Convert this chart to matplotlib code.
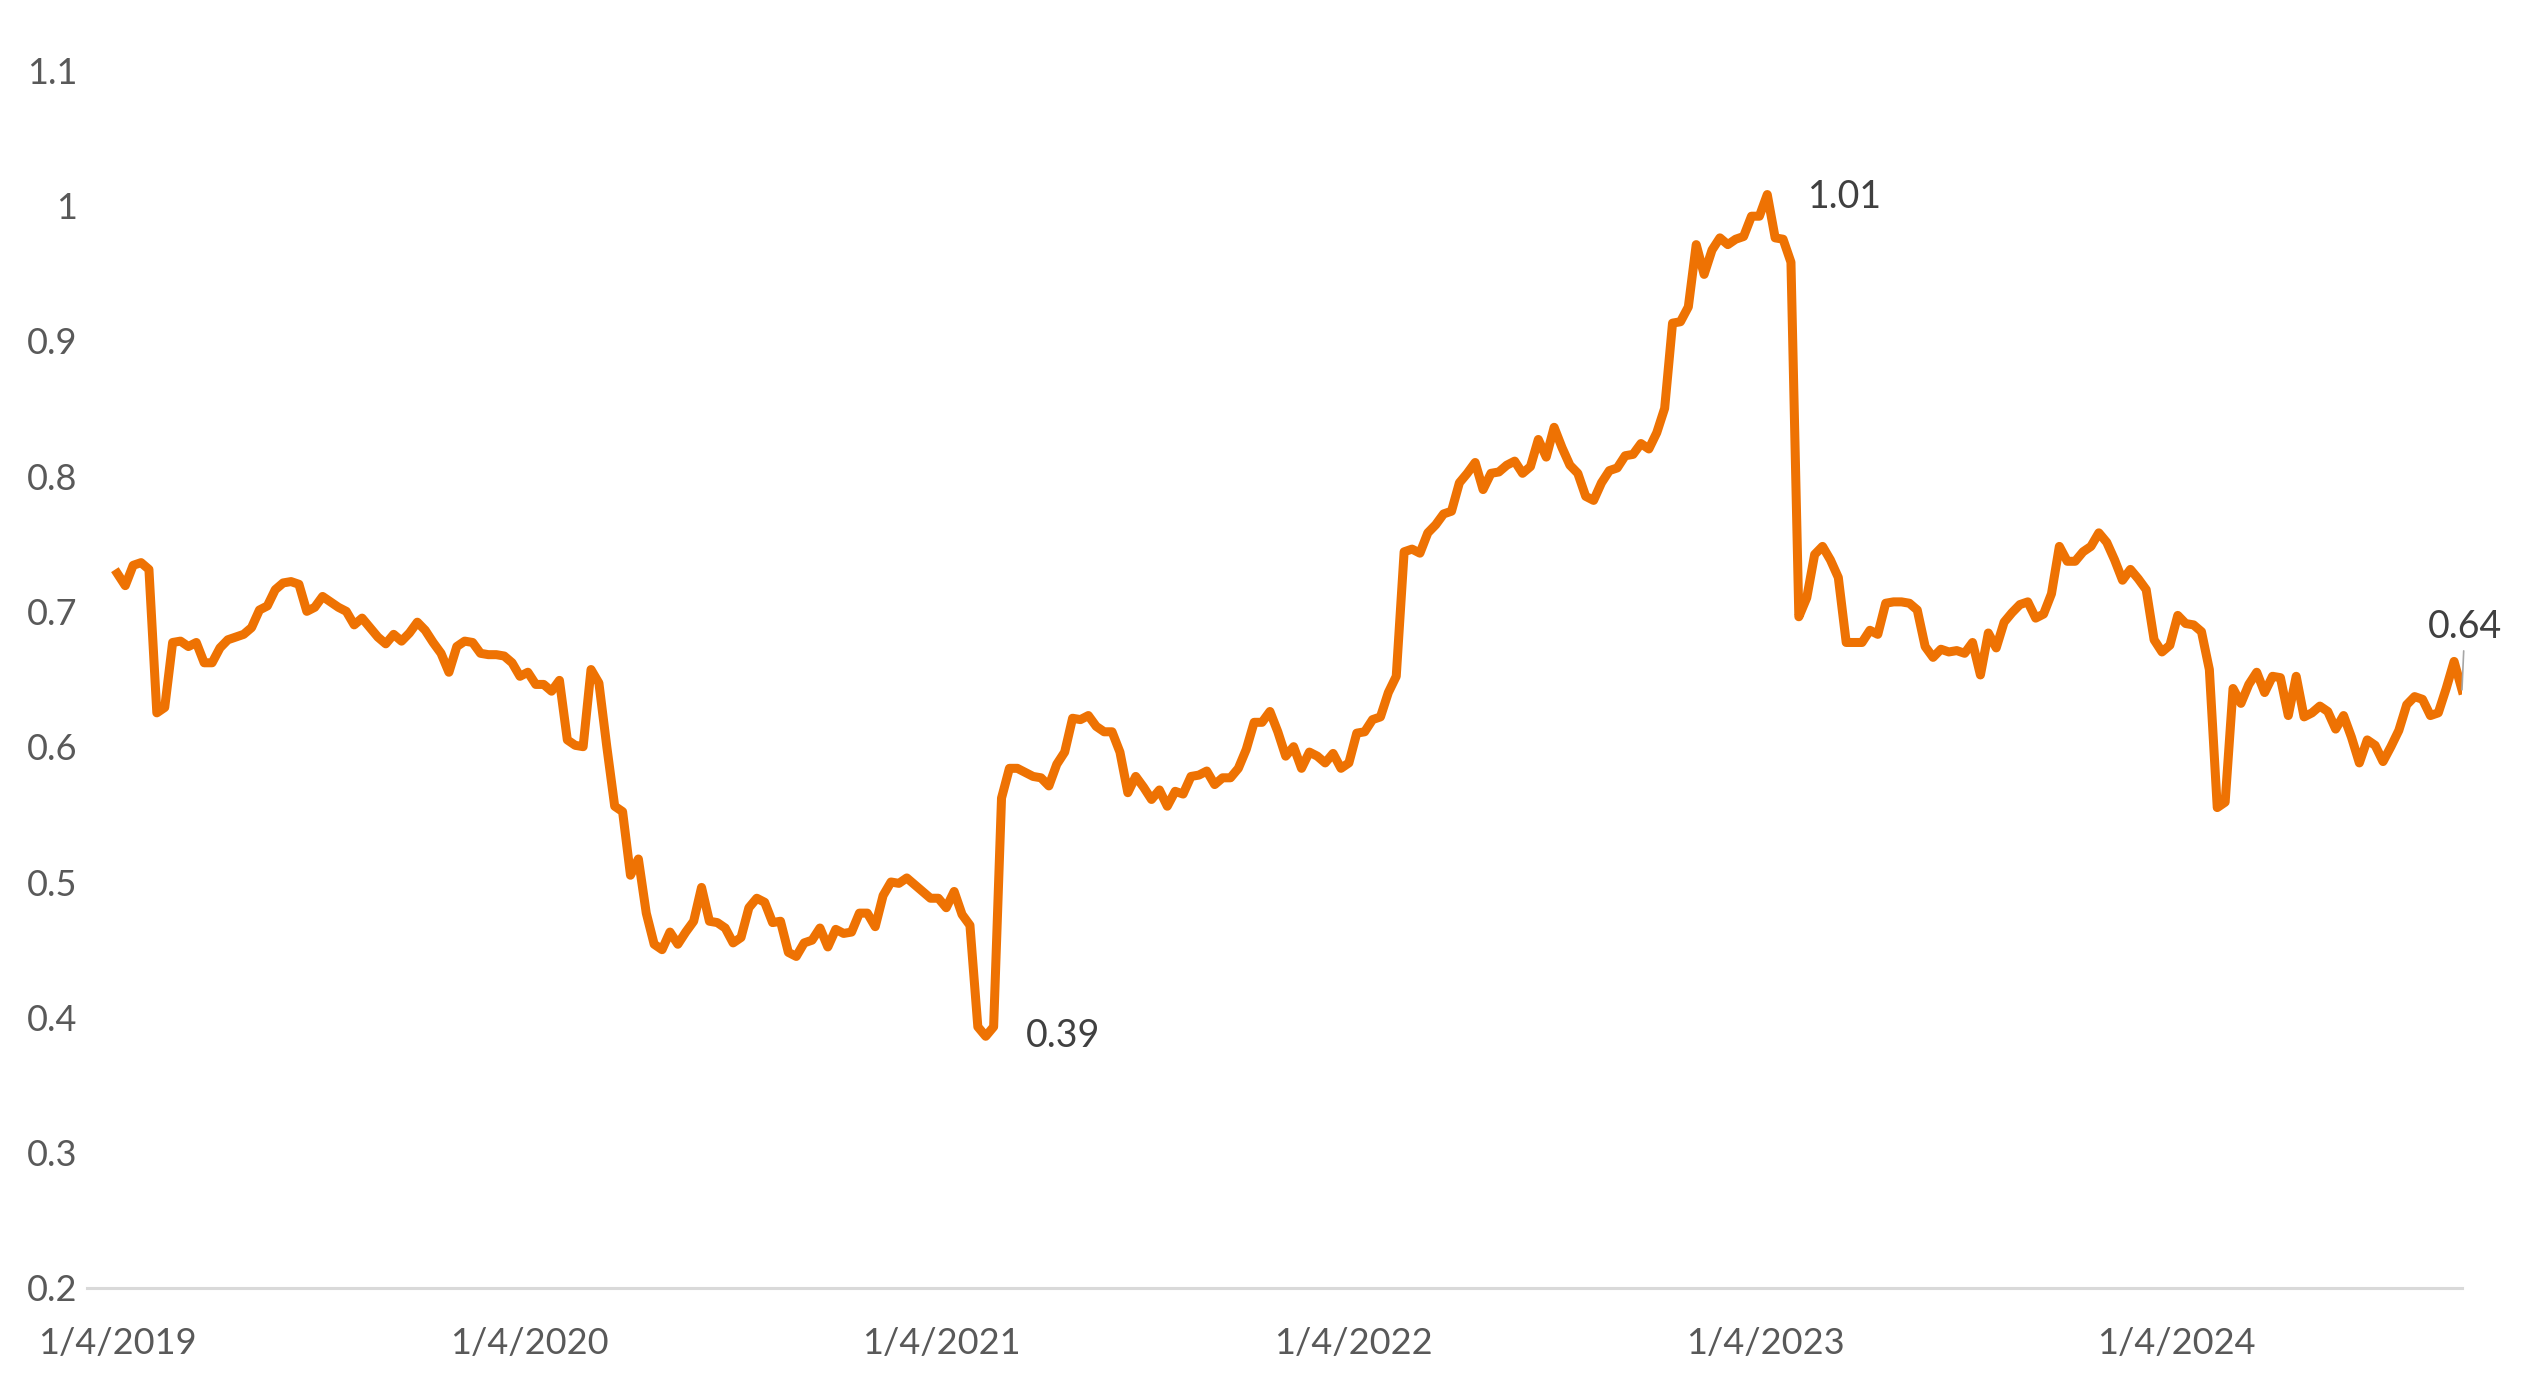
import matplotlib
matplotlib.use('Agg')
import matplotlib.pyplot as plt
import matplotlib.dates as mdates
import numpy as np
import pandas as pd

# weekly series (starts 1/4/2019)
start_date = '2019-01-04'
values = [
    0.728, 0.719, 0.734, 0.736, 0.731, 0.625, 0.629, 0.677, 0.678, 0.674,
    0.677, 0.662, 0.662, 0.673, 0.679, 0.681, 0.683, 0.688, 0.701, 0.704,
    0.716, 0.721, 0.722, 0.720, 0.700, 0.703, 0.711, 0.707, 0.703, 0.700,
    0.690, 0.695, 0.688, 0.681, 0.676, 0.683, 0.678, 0.684, 0.692, 0.686,
    0.677, 0.669, 0.655, 0.674, 0.678, 0.677, 0.669, 0.668, 0.668, 0.667,
    0.662, 0.652, 0.655, 0.646, 0.646, 0.641, 0.649, 0.605, 0.601, 0.600,
    0.657, 0.647, 0.600, 0.556, 0.552, 0.505, 0.517, 0.477, 0.454, 0.450,
    0.463, 0.454, 0.463, 0.471, 0.496, 0.471, 0.470, 0.466, 0.455, 0.459,
    0.481, 0.488, 0.485, 0.470, 0.471, 0.448, 0.445, 0.455, 0.457, 0.466,
    0.452, 0.465, 0.462, 0.463, 0.477, 0.477, 0.467, 0.490, 0.500, 0.499,
    0.503, 0.498, 0.493, 0.488, 0.488, 0.481, 0.493, 0.476, 0.468, 0.393,
    0.386, 0.393, 0.562, 0.584, 0.584, 0.581, 0.578, 0.577, 0.571, 0.587,
    0.596, 0.621, 0.620, 0.623, 0.615, 0.611, 0.611, 0.596, 0.566, 0.578,
    0.570, 0.561, 0.568, 0.556, 0.567, 0.565, 0.578, 0.579, 0.582, 0.572,
    0.577, 0.577, 0.584, 0.598, 0.618, 0.618, 0.626, 0.611, 0.593, 0.600,
    0.584, 0.596, 0.593, 0.588, 0.595, 0.584, 0.588, 0.610, 0.611, 0.620,
    0.622, 0.640, 0.652, 0.744, 0.746, 0.743, 0.758, 0.764, 0.772, 0.774,
    0.795, 0.802, 0.810, 0.790, 0.802, 0.803, 0.808, 0.811, 0.802, 0.807,
    0.827, 0.814, 0.836, 0.821, 0.808, 0.802, 0.785, 0.782, 0.795, 0.804,
    0.806, 0.815, 0.816, 0.824, 0.820, 0.832, 0.850, 0.913, 0.914, 0.925,
    0.971, 0.949, 0.967, 0.976, 0.971, 0.975, 0.977, 0.992, 0.992, 1.008,
    0.976, 0.975, 0.958, 0.696, 0.710, 0.742, 0.748, 0.738, 0.725, 0.677,
    0.677, 0.677, 0.686, 0.683, 0.706, 0.707, 0.707, 0.706, 0.701, 0.674,
    0.666, 0.672, 0.670, 0.671, 0.669, 0.677, 0.653, 0.684, 0.673, 0.692,
    0.699, 0.705, 0.707, 0.695, 0.698, 0.713, 0.748, 0.737, 0.737, 0.744,
    0.748, 0.758, 0.751, 0.738, 0.723, 0.731, 0.724, 0.716, 0.679, 0.670,
    0.675, 0.697, 0.691, 0.690, 0.685, 0.657, 0.555, 0.559, 0.643, 0.632,
    0.646, 0.655, 0.640, 0.652, 0.651, 0.623, 0.652, 0.622, 0.625, 0.630,
    0.626, 0.613, 0.623, 0.607, 0.588, 0.605, 0.601, 0.589, 0.600, 0.612,
    0.631, 0.637, 0.635, 0.623, 0.625, 0.643, 0.663, 0.642,
]
tick_dates = ['2019-01-04', '2020-01-04', '2021-01-04', '2022-01-04',
              '2023-01-04', '2024-01-04']
tick_labels = ['1/4/2019', '1/4/2020', '1/4/2021', '1/4/2022',
               '1/4/2023', '1/4/2024']
y_ticks = [0.2, 0.3, 0.4, 0.5, 0.6, 0.7, 0.8, 0.9, 1.0, 1.1]
y_labels = ['0.2', '0.3', '0.4', '0.5', '0.6', '0.7', '0.8', '0.9', '1', '1.1']

dates = pd.date_range(start_date, periods=len(values), freq='7D')
vals = np.array(values)

plt.rcParams['font.family'] = ['Lato', 'DejaVu Sans']

fig = plt.figure(figsize=(25.41, 13.90), dpi=100)
ax = fig.add_axes([0.0342, 0.0734, 0.9347, 0.8762])

ax.plot(dates, vals, color='#EE7203', linewidth=6.5, solid_joinstyle='round')

ax.set_ylim(0.2, 1.1)
ax.set_xlim(dates[0] - pd.Timedelta(days=27), dates[-1])
ax.set_yticks(y_ticks)
ax.set_yticklabels(y_labels)
ax.set_xticks(mdates.date2num(pd.to_datetime(tick_dates)))
ax.set_xticklabels(tick_labels)
ax.tick_params(axis='both', length=0, labelsize=26, labelcolor='#595959')
ax.tick_params(axis='y', pad=7)
ax.tick_params(axis='x', pad=28)

for side in ['left', 'right', 'top']:
    ax.spines[side].set_visible(False)
ax.spines['bottom'].set_color('#d9d9d9')
ax.spines['bottom'].set_linewidth(2.2)

# data labels: min, max and last value
i_min = int(np.argmin(vals))
i_max = int(np.argmax(vals))
ax.annotate(f'{vals[i_min]:.2f}', (dates[i_min], vals[i_min]),
            xytext=(29, 0), textcoords='offset points', ha='left', va='center',
            fontsize=27, color='#404040')
ax.annotate(f'{vals[i_max]:.2f}', (dates[i_max], vals[i_max]),
            xytext=(29, -2), textcoords='offset points', ha='left', va='center',
            fontsize=27, color='#404040')
ax.annotate(f'{vals[-1]:.2f}', (dates[-1], vals[-1]),
            xytext=(2, 45), textcoords='offset points', ha='center', va='center',
            fontsize=27, color='#404040', annotation_clip=False,
            arrowprops=dict(arrowstyle='-', color='#a6a6a6', lw=1.2,
                            shrinkA=2, shrinkB=0))

fig.savefig('out.png', dpi=100, facecolor='white')
